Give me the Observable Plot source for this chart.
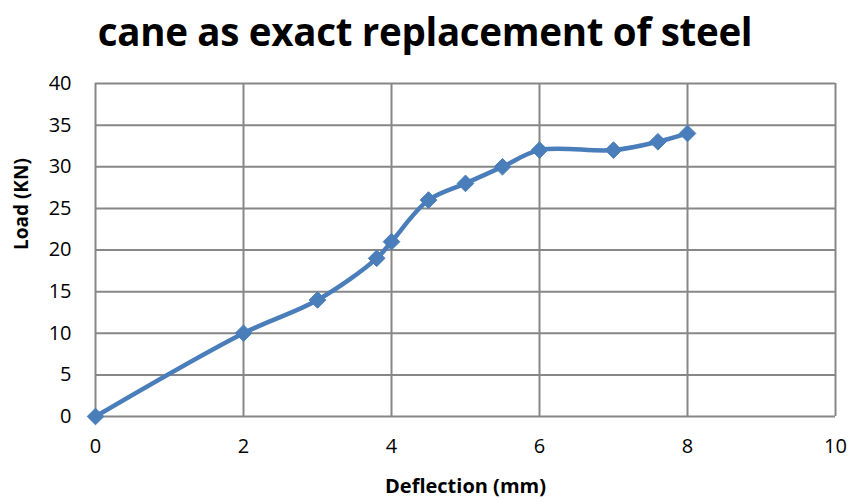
<!DOCTYPE html>
<html>
<head>
<meta charset="utf-8">
<script src="https://cdn.jsdelivr.net/npm/d3@7"></script>
<script src="https://cdn.jsdelivr.net/npm/@observablehq/plot@0.6"></script>
<style>
  html, body { margin: 0; padding: 0; background: #fff; }
  #title { width: 850px; height: 70px; text-align: center; font-family: "Open Sans", sans-serif; font-weight: 700; font-size: 38.5px; line-height: 62px; color: #000; letter-spacing: -0.3px; }
  svg { display: block; }
</style>
</head>
<body>
<div id="title">cane as exact replacement of steel</div>
<div id="chart"></div>
<script>
const deflection = [0, 2, 3, 3.8, 4, 4.5, 5, 5.5, 6, 7, 7.6, 8];
const load = [0, 10, 14, 19, 21, 26, 28, 30, 32, 32, 33, 34];
const xTicks = [0, 2, 4, 6, 8, 10];
const yTicks = [0, 5, 10, 15, 20, 25, 30, 35, 40];

const data = deflection.map((d, i) => ({x: d, y: load[i]}));
const grid = "#878787";
const blue = "#4a7ebb";

const chart = Plot.plot({
  width: 850,
  height: 431,
  marginLeft: 95,
  marginRight: 15,
  marginTop: 13,
  marginBottom: 85,
  style: {fontFamily: "'Open Sans', sans-serif", fontSize: "20px", color: "#000", background: "#fff"},
  x: {domain: [0, 10], ticks: xTicks, tickSize: 0, tickPadding: 22, label: null},
  y: {domain: [0, 40], ticks: yTicks, tickSize: 0, tickPadding: 24, label: null},
  marks: [
    Plot.ruleX(xTicks, {stroke: grid, strokeWidth: 2}),
    Plot.ruleY(yTicks, {stroke: grid, strokeWidth: 2}),
    Plot.axisX({ticks: xTicks, tickSize: 0, tickPadding: 22, fontSize: 20, label: null}),
    Plot.axisY({ticks: yTicks, tickSize: 0, tickPadding: 24, fontSize: 20, label: null}),
    Plot.line(data, {x: "x", y: "y", curve: "catmull-rom", stroke: blue, strokeWidth: 4.5}),
    Plot.dot(data, {x: "x", y: "y", symbol: "diamond2", r: 7.5, fill: blue, stroke: blue, strokeWidth: 1}),
    Plot.text(["Deflection (mm)"], {frameAnchor: "bottom", dy: 76, fontWeight: "bold", fontSize: 20, text: d => d}),
    Plot.text(["Load (KN)"], {frameAnchor: "left", dx: -74, rotate: -90, fontWeight: "bold", fontSize: 19, text: d => d})
  ]
});
document.getElementById("chart").appendChild(chart);
</script>
</body>
</html>
